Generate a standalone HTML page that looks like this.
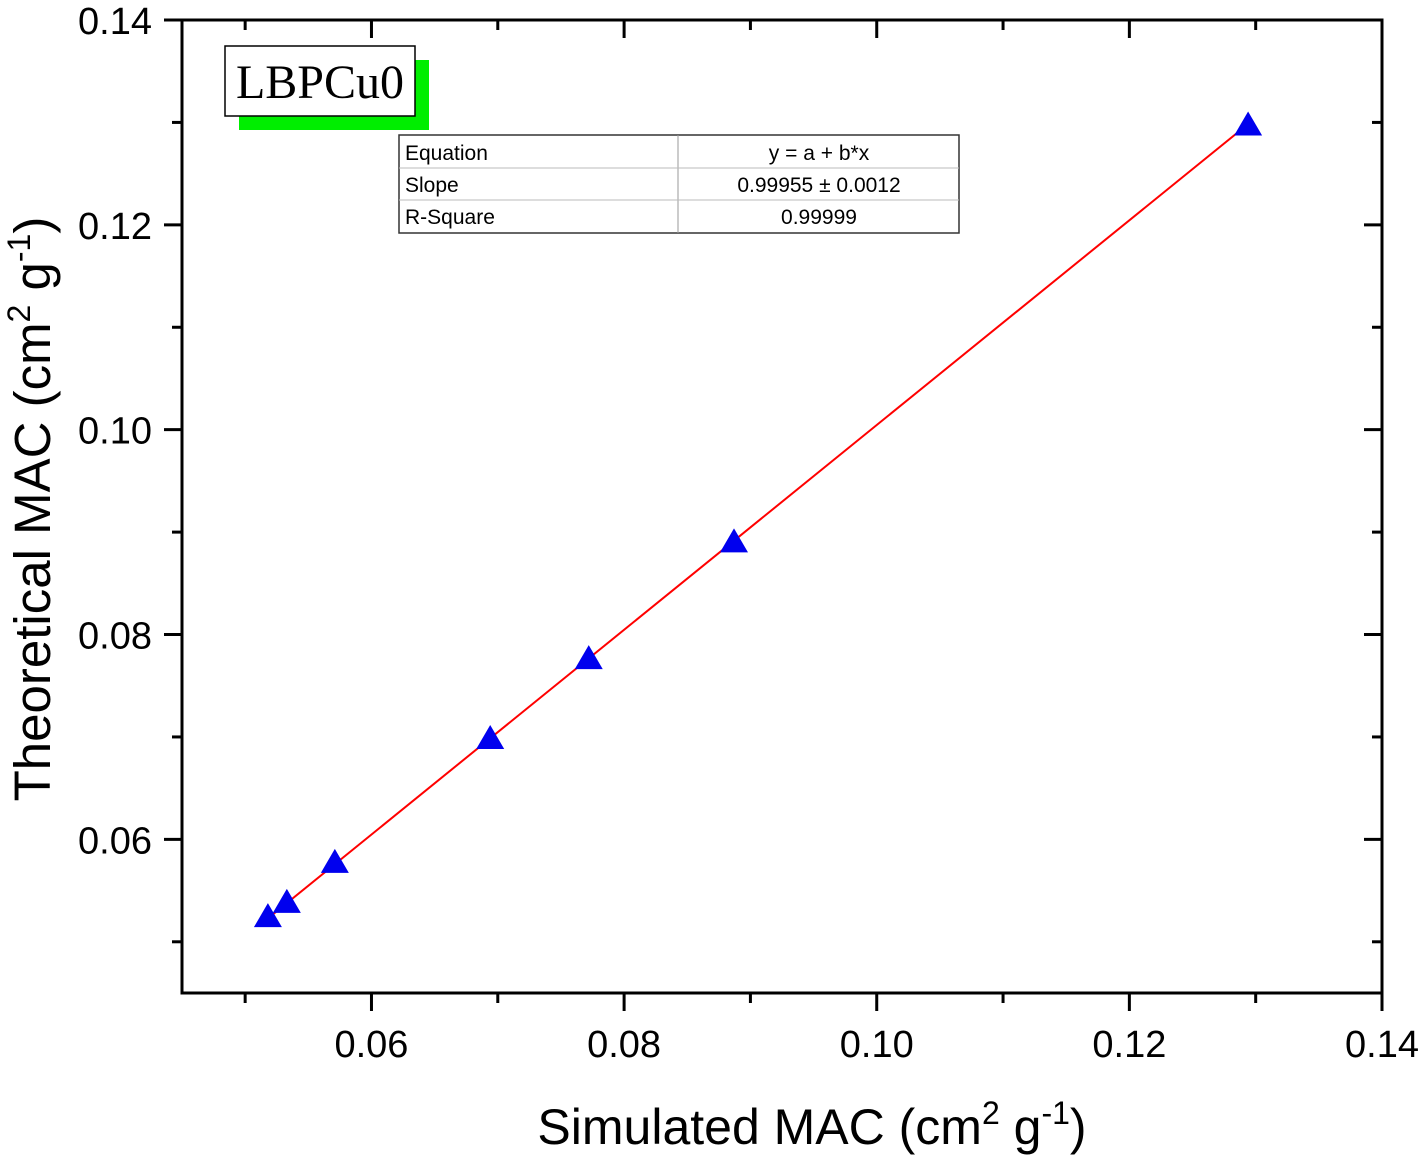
<!DOCTYPE html>
<html><head><meta charset="utf-8"><style>
body{margin:0;background:#fff}
svg text{font-family:"Liberation Sans",sans-serif}
</style></head><body>
<svg width="1425" height="1160" xmlns="http://www.w3.org/2000/svg">
<g id="axes"></g>
<g id="marks"></g>
<g>
<rect x="239" y="60" width="190" height="70" fill="#00ee00"/>
<rect x="225" y="46" width="190" height="70" fill="#fff" stroke="#000" stroke-width="1.5"/>
<text x="320" y="98" text-anchor="middle" font-size="48" style="font-family:'Liberation Serif',serif">LBPCu0</text>
</g>
<g font-size="21">
<rect x="399" y="135" width="560" height="98" fill="#fff" stroke="#333" stroke-width="1.5"/>
<line x1="678" y1="135" x2="678" y2="233" stroke="#999"/>
<line x1="399" y1="168" x2="959" y2="168" stroke="#bbb"/>
<line x1="399" y1="200" x2="959" y2="200" stroke="#bbb"/>
<text x="405" y="160">Equation</text><text x="819" y="160" text-anchor="middle">y = a + b*x</text>
<text x="405" y="192">Slope</text><text x="819" y="192" text-anchor="middle">0.99955 ± 0.0012</text>
<text x="405" y="224">R-Square</text><text x="819" y="224" text-anchor="middle">0.99999</text>
</g>
<text x="812" y="1144" text-anchor="middle" font-size="50">Simulated MAC (cm<tspan dy="-20" font-size="32">2</tspan><tspan dy="20"> g</tspan><tspan dy="-20" font-size="32">-1</tspan><tspan dy="20">)</tspan></text>
<text transform="translate(50,509) rotate(-90)" text-anchor="middle" font-size="51">Theoretical MAC (cm<tspan dy="-20" font-size="32">2</tspan><tspan dy="20"> g</tspan><tspan dy="-20" font-size="32">-1</tspan><tspan dy="20">)</tspan></text>
</svg>
<script>
const xs=[0.0518,0.0533,0.0571,0.0694,0.0772,0.0887,0.1294];
const ys=[0.0525,0.0539,0.0578,0.0699,0.0777,0.0891,0.1298];
const fitA=0.0005, fitB=0.99955;
const xTicks=[0.06,0.08,0.10,0.12,0.14];
const yTicks=[0.06,0.08,0.10,0.12,0.14];
const xMinor=[0.05,0.07,0.09,0.11,0.13];
const yMinor=[0.05,0.07,0.09,0.11,0.13];
const L=182,R=1382,T=20,B=993,x0=0.045,x1=0.14,y0=0.045,y1=0.14;
const X=v=>L+(v-x0)/(x1-x0)*(R-L);
const Y=v=>B-(v-y0)/(y1-y0)*(B-T);
const NS='http://www.w3.org/2000/svg';
function mk(p,t,a){const e=document.createElementNS(NS,t);for(const k in a)e.setAttribute(k,a[k]);p.appendChild(e);return e;}
const ax=document.getElementById('axes'),mg=document.getElementById('marks');
const fr=mk(ax,'rect',{x:L,y:T,width:R-L,height:B-T,fill:'none',stroke:'#000','stroke-width':3});


function xt(v,len,lab){
 mk(ax,'line',{x1:X(v),y1:B,x2:X(v),y2:B+len,stroke:'#000','stroke-width':3});
 mk(ax,'line',{x1:X(v),y1:T,x2:X(v),y2:T+len,stroke:'#000','stroke-width':3});
 if(lab){const t=mk(ax,'text',{x:X(v),y:B+64,'text-anchor':'middle','font-size':38});t.textContent=v.toFixed(2);
 
 }
}
function yt(v,len,lab){
 mk(ax,'line',{x1:L,y1:Y(v),x2:L-len,y2:Y(v),stroke:'#000','stroke-width':3});
 mk(ax,'line',{x1:R,y1:Y(v),x2:R-len,y2:Y(v),stroke:'#000','stroke-width':3});
 if(lab){const t=mk(ax,'text',{x:L-30,y:Y(v)+14,'text-anchor':'end','font-size':38});t.textContent=v.toFixed(2);
 
 }
}
xTicks.forEach(v=>xt(v,18,true));xMinor.forEach(v=>xt(v,10,false));
yTicks.forEach(v=>yt(v,18,true));yMinor.forEach(v=>yt(v,10,false));
const lx0=Math.min(...xs)-0.0006,lx1=Math.max(...xs);
const ln=mk(mg,'line',{x1:X(lx0),y1:Y(fitA+fitB*lx0),x2:X(lx1),y2:Y(fitA+fitB*lx1),stroke:'#ff0000','stroke-width':2});


xs.forEach((v,i)=>{const cx=X(v),cy=Y(ys[i]);
 const p=mk(mg,'polygon',{points:`${cx},${cy-13} ${cx-14},${cy+11} ${cx+14},${cy+11}`,fill:'#0000ee'});
 
 });
</script>
</body></html>
